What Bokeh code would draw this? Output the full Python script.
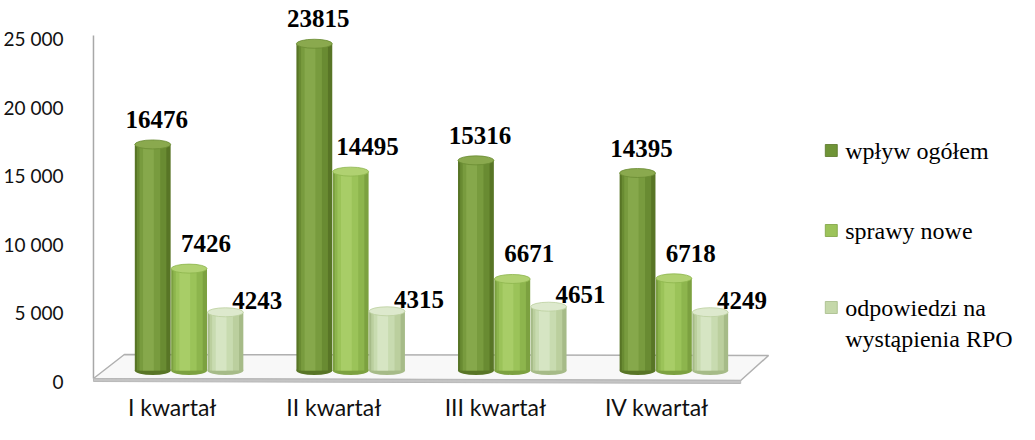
from bokeh.plotting import figure
from bokeh.models import Range1d, FixedTicker, ColumnDataSource
from bokeh.core.properties import value
from bokeh.embed import file_html
from bokeh.resources import INLINE

# ---------------- data ----------------
quarters = ["I kwartał", "II kwartał", "III kwartał", "IV kwartał"]
series_names = ["wpływ ogółem", "sprawy nowe", "odpowiedzi na\nwystąpienia RPO"]
wplyw_ogolem = [16476, 23815, 15316, 14395]
sprawy_nowe = [7426, 14495, 6671, 6718]
odpowiedzi = [4243, 4315, 4651, 4249]
y_ticks = [0, 5000, 10000, 15000, 20000, 25000]
y_tick_labels = ["0", "5 000", "10 000", "15 000", "20 000", "25 000"]

series_values = [wplyw_ogolem, sprawy_nowe, odpowiedzi]

# ---------------- layout / style ----------------
W, H = 1019, 424
FL = 85                 # frame left (px)
PX = 343.0 / 25000      # px per value unit
Y0 = 381                # px from top where value 0 sits
UX = 162.3              # px per category step
MID0 = 185              # px of first group's middle bar
x_start = -(MID0 - FL) / UX
x_end = x_start + (W - FL) / UX
y_end = Y0 / PX
y_start = -(H - Y0) / PX

def px_x(px):           # figure px -> data x
    return x_start + (px - FL) / UX

def px_y(py):           # figure px -> data y
    return (Y0 - py) / PX

DEPTH = 11 / PX         # 3-D depth lift of the bar bases
BAR_W = 36 / UX
OFFS = [-36.5 / UX, 0.0, 36.5 / UX]
ELL_H = 9 / PX

layers = [
    ["#587526", "#698b32", "#789b3e", "#86a84b"],
    ["#7ca140", "#8db54d", "#9bc359", "#a8cd67"],
    ["#a6bb88", "#bbcf9e", "#c8dbb0", "#d6e5c3"],
]
tops = ["#8aa94e", "#b0d171", "#dde9cd"]
legend_cols = ["#6f9437", "#9cc35a", "#c5d8aa"]
LW = [1.0, 0.82, 0.58, 0.3]
LSHIFT = [0.0, -0.03, -0.08, -0.12]

lab_dx = [4 / UX, 17 / UX, 32 / UX]
lab_dy = [25 / PX, 25 / PX, 12 / PX]

p = figure(width=W, height=H, output_backend="svg", toolbar_location=None,
           x_range=Range1d(x_start, x_end), y_range=Range1d(y_start, y_end),
           x_axis_location=None, min_border_left=FL, min_border_right=0,
           min_border_top=0, min_border_bottom=0, background_fill_color="white",
           border_fill_color="white", outline_line_color=None)
p.xgrid.visible = False
p.ygrid.visible = False

ax = p.yaxis[0]
ax.ticker = FixedTicker(ticks=y_ticks)
ax.major_label_overrides = {t: l for t, l in zip(y_ticks, y_tick_labels)}
ax.axis_line_color = None
ax.major_tick_line_color = None
ax.minor_tick_line_color = None
ax.major_label_standoff = 20
ax.major_label_text_font = "Lato"
ax.major_label_text_font_size = "19px"
ax.major_label_text_color = "#111111"

# vertical wall edge
p.segment(x0=[px_x(89)], y0=[px_y(378)], x1=[px_x(89)], y1=[px_y(35)],
          line_color="#a8a8a8", line_width=1.5)

# floor (top face + front face)
fx = [px_x(89), px_x(120), px_x(767), px_x(739)]
fy = [px_y(378), px_y(354), px_y(355), px_y(380)]
p.patch(fx, fy, fill_color="#f8f8f8", line_color="#b0b0b0", line_width=1.5)
p.patch([px_x(89), px_x(739), px_x(739), px_x(89)],
        [px_y(378), px_y(380), px_y(383), px_y(381)],
        fill_color="#c4c4c4", line_color="#b8b8b8", line_width=1)

n = len(quarters)
for s, vals in enumerate(series_values):
    xs = [i + OFFS[s] for i in range(n)]
    bottoms = [DEPTH] * n
    topv = [DEPTH + v for v in vals]
    src = ColumnDataSource(dict(x=xs, b=bottoms, t=topv, v=vals))
    # bottom rounding
    p.ellipse(x="x", y="b", width=BAR_W, height=ELL_H, source=src,
              fill_color=layers[s][0], line_color=None)
    for k in range(len(LW)):
        xk = [x + LSHIFT[k] * BAR_W for x in xs]
        p.vbar(x=xk, bottom=bottoms, top=topv, width=BAR_W * LW[k],
               fill_color=layers[s][k], line_color=None)
    p.ellipse(x="x", y="t", width=BAR_W, height=ELL_H, source=src,
              fill_color=tops[s], line_color=layers[s][1], line_width=0.8)
    # value labels
    p.text(x=[x + lab_dx[s] for x in xs], y=[t + lab_dy[s] for t in topv],
           text=[str(v) for v in vals], text_font=value("Liberation Serif"),
           text_font_style="bold", text_font_size="25px", text_color="#000000",
           text_align="center", text_baseline="middle")

# category labels
p.text(x=[i - 17 / UX for i in range(n)], y=[px_y(406)] * n, text=quarters,
       text_font=value("Lato"), text_font_size="23px", text_color="#111111",
       text_align="center", text_baseline="middle")

# legend
leg_y = [150, 230, 307]
for s, name in enumerate(series_names):
    p.scatter(x=[px_x(830)], y=[px_y(leg_y[s])], marker="square", size=12,
              fill_color=legend_cols[s], line_color=layers[s][0], line_width=0.8)
    for j, line in enumerate(name.split("\n")):
        p.text(x=[px_x(844)], y=[px_y(leg_y[s] + 31 * j)], text=[line],
               text_font=value("Liberation Serif"), text_font_size="24px",
               text_color="#000000", text_align="left", text_baseline="middle")

open("out.html", "w").write(file_html(p, INLINE))
